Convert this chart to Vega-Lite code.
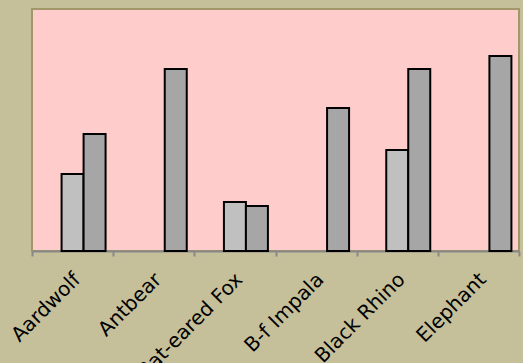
{
  "$schema": "https://vega.github.io/schema/vega-lite/v6.json",
  "width": 487,
  "height": 242,
  "autosize": {"type": "none"},
  "padding": {"left": 32, "top": 9, "right": 4, "bottom": 112},
  "background": "#C6C09A",
  "config": {"view": {"fill": "#FFCCCC", "stroke": "#A09868", "strokeWidth": 2}},
  "data": {
    "values": [
      {"animal": "Aardwolf", "series": "b", "value": 77},
      {"animal": "Aardwolf", "series": "c", "value": 117},
      {"animal": "Antbear", "series": "c", "value": 182},
      {"animal": "Bat-eared Fox", "series": "b", "value": 49},
      {"animal": "Bat-eared Fox", "series": "c", "value": 45},
      {"animal": "B-f Impala", "series": "c", "value": 143},
      {"animal": "Black Rhino", "series": "b", "value": 101},
      {"animal": "Black Rhino", "series": "c", "value": 182},
      {"animal": "Elephant", "series": "c", "value": 195}
    ]
  },
  "mark": {"type": "bar", "stroke": "black", "strokeWidth": 2},
  "encoding": {
    "x": {
      "field": "animal",
      "type": "nominal",
      "sort": null,
      "scale": {"paddingInner": 0, "paddingOuter": 0},
      "axis": {
        "title": null,
        "labelAngle": -45,
        "tickBand": "extent",
        "domainColor": "#888888",
        "domainWidth": 2,
        "tickColor": "#888888",
        "tickWidth": 2,
        "tickSize": 5,
        "labelFont": "DejaVu Sans",
        "labelFontSize": 20,
        "labelColor": "black",
        "labelPadding": 13,
        "labelOffset": -3
      }
    },
    "xOffset": {"field": "series", "scale": {"domain": ["a", "b", "c"], "paddingInner": 0, "paddingOuter": 0.345}},
    "y": {"field": "value", "type": "quantitative", "scale": {"domain": [0, 242]}, "axis": null},
    "color": {
      "field": "series",
      "scale": {"domain": ["b", "c"], "range": ["#C0C0C0", "#A6A6A6"]},
      "legend": null
    }
  }
}
